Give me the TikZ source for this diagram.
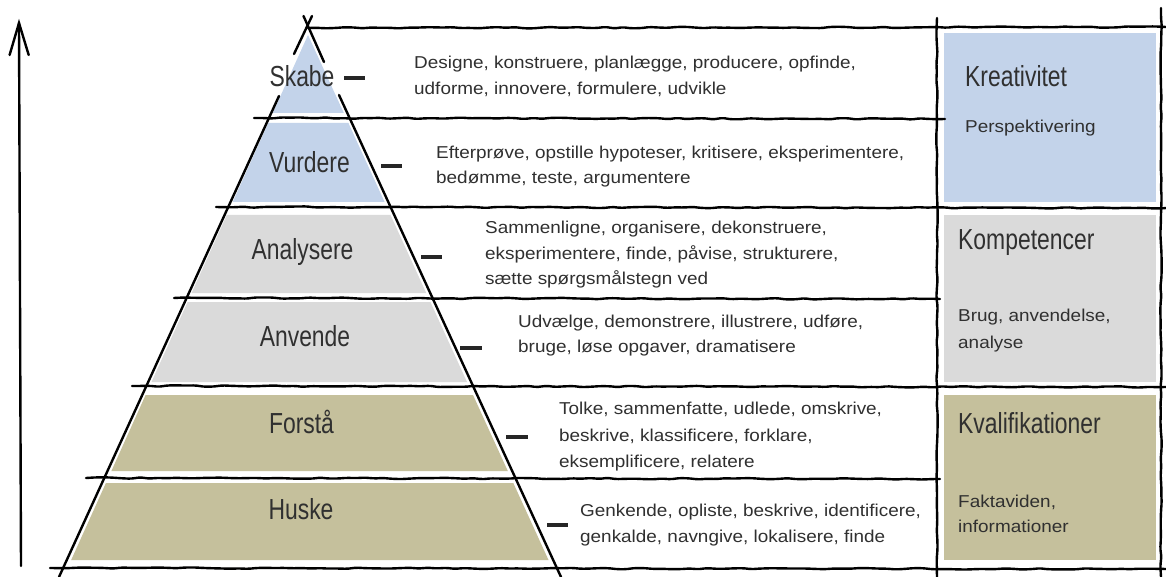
\documentclass[tikz,border=0pt]{standalone}
\usepackage{fontspec}
\setmainfont{Liberation Sans}
\newfontfamily\bodyfont[FakeStretch=1.1]{Liberation Sans}
\newfontfamily\labfont[FakeStretch=0.79]{Liberation Sans}
\usetikzlibrary{decorations.pathmorphing}
\definecolor{pblue}{RGB}{195,211,234}
\definecolor{pgray}{RGB}{218,218,218}
\definecolor{pkhaki}{RGB}{197,192,156}
\definecolor{txt}{RGB}{48,48,48}
\begin{document}
\begin{tikzpicture}[x=1pt,y=-1pt,
  hand/.style={line width=2.4pt, black, decorate, decoration={random steps, segment length=9pt, amplitude=0.7pt}, rounded corners=2pt, line cap=round},
  edge/.style={line width=2.4pt, black, line cap=round},
  dashmark/.style={line width=3.8pt, black!85},
  lab/.style={font=\labfont\fontsize{29}{29}\selectfont, text=txt, inner sep=0pt, anchor=base},
  rlab/.style={lab, anchor=base west},
  body/.style={font=\bodyfont\fontsize{17.2}{25}\selectfont, text=txt, inner sep=0pt, anchor=base west},
]
\pgfmathsetseed{7}
\useasboundingbox (0,0) rectangle (1166,577);
\fill[white] (0,0) rectangle (1166,577);

% fills of the pyramid bands
\fill[pblue]  (308,35) -- (343.8,113) -- (272.8,113) -- cycle;
\fill[pblue]  (268.3,123) -- (348.4,123) -- (384.6,202) -- (232.7,202) -- cycle;
\fill[pgray]  (226.8,215) -- (390.5,215) -- (426.2,293) -- (191.6,293) -- cycle;
\fill[pgray]  (187.6,302) -- (430.4,302) -- (467,382) -- (151.5,382) -- cycle;
\fill[pkhaki] (145.6,395) -- (473,395) -- (507.8,471) -- (111.4,471) -- cycle;
\fill[pkhaki] (105.9,483) -- (513.3,483) -- (548.5,560) -- (71.2,560) -- cycle;

% right column boxes
\fill[pblue]  (944,33) rectangle (1156,202);
\fill[pgray]  (944,215) rectangle (1156,382);
\fill[pkhaki] (944,395) rectangle (1156,560);

% horizontal hand-drawn lines
\draw[hand] (308,28) -- (1166,27);
\draw[hand] (254,118) -- (945,119);
\draw[hand] (216,207) -- (1166,208);
\draw[hand] (174,298) -- (940,299);
\draw[hand] (132,386) -- (1166,387);
\draw[hand] (86,478) -- (940,479);
\draw[hand] (50,568) -- (1166,569);

% column verticals
\draw[hand] (937,18) -- (937,577);
\draw[hand] (1161,8) -- (1161,577);

% pyramid edges (interrupted by the label Skabe)
\coordinate (lb) at (59,577);
\coordinate (lg1) at (279,96);
\coordinate (lg2) at (294,54);
\coordinate (lt) at (312,16);
\coordinate (rb) at (561,577);
\coordinate (rg1) at (339,95);
\coordinate (rg2) at (324,62);
\coordinate (rt) at (303.5,16);
\draw[edge] (lb) -- (lg1);
\draw[edge] (lg2) -- (lt);
\draw[edge] (rb) -- (rg1);
\draw[edge] (rg2) -- (rt);

% vertical arrow
\coordinate (ab) at (21,566);
\coordinate (at) at (19,23);
\coordinate (al) at (9.6,55);
\coordinate (ar) at (28.7,55);
\draw[edge] (ab) -- (at);
\draw[edge, line join=miter] (al) -- (at) -- (ar);

% level labels
\node[lab] (skabe) at (302,86.7) {Skabe};
\node[lab] (vurdere) at (309.5,172.3) {Vurdere};
\node[lab] (analysere) at (302.5,259.3) {Analysere};
\node[lab] (anvende) at (305,346) {Anvende};
\node[lab] (forsta) at (301.5,433) {Forstå};
\node[lab] (huske) at (301,519.3) {Huske};

% dashes
\coordinate (d1a) at (344,78);  \coordinate (d1b) at (365,78);
\coordinate (d2a) at (381,166); \coordinate (d2b) at (402,166);
\coordinate (d3a) at (421,257); \coordinate (d3b) at (442,257);
\coordinate (d4a) at (460,348); \coordinate (d4b) at (482,348);
\coordinate (d5a) at (506,437); \coordinate (d5b) at (528,437);
\coordinate (d6a) at (547,525); \coordinate (d6b) at (568,525);
\draw[dashmark] (d1a) -- (d1b);
\draw[dashmark] (d2a) -- (d2b);
\draw[dashmark] (d3a) -- (d3b);
\draw[dashmark] (d4a) -- (d4b);
\draw[dashmark] (d5a) -- (d5b);
\draw[dashmark] (d6a) -- (d6b);

% verb texts
\node[body] (s1) at (414,69)   {Designe, konstruere, planlægge, producere, opfinde,};
\node[body] (s2) at (414,94.5) {udforme, innovere, formulere, udvikle};
\node[body] (v1) at (436,158.3) {Efterprøve, opstille hypoteser, kritisere, eksperimentere,};
\node[body] (v2) at (436,183.3) {bedømme, teste, argumentere};
\node[body] (a1) at (485,234)   {Sammenligne, organisere, dekonstruere,};
\node[body] (a2) at (485,259.5) {eksperimentere, finde, påvise, strukturere,};
\node[body] (a3) at (485,284.5) {sætte spørgsmålstegn ved};
\node[body] (n1) at (518,327.7) {Udvælge, demonstrere, illustrere, udføre,};
\node[body] (n2) at (518,352.7) {bruge, løse opgaver, dramatisere};
\node[body] (f1) at (559,414)   {Tolke, sammenfatte, udlede, omskrive,};
\node[body] (f2) at (559,441)   {beskrive, klassificere, forklare,};
\node[body] (f3) at (559,467)   {eksemplificere, relatere};
\node[body] (h1) at (580,516.7) {Genkende, opliste, beskrive, identificere,};
\node[body] (h2) at (580,542)   {genkalde, navngive, lokalisere, finde};

% right column texts
\node[rlab] (kre) at (965,86.7) {Kreativitet};
\node[body] (per) at (965,132.7) {Perspektivering};
\node[rlab] (kom) at (958,250) {Kompetencer};
\node[body] (bru1) at (958,321.7) {Brug, anvendelse,};
\node[body] (bru2) at (958,348) {analyse};
\node[rlab] (kva) at (958,433.3) {Kvalifikationer};
\node[body] (fak1) at (958,507.7) {Faktaviden,};
\node[body] (fak2) at (958,532.7) {informationer};
\end{tikzpicture}
\end{document}
